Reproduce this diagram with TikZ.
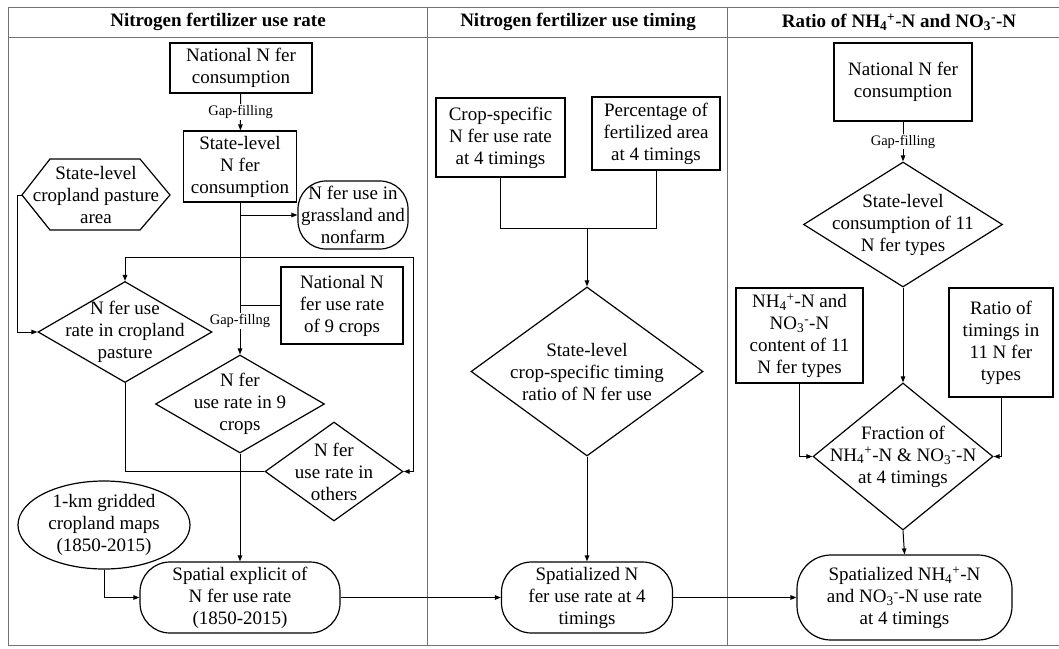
\documentclass[tikz,border=0pt]{standalone}
\usepackage{fontspec}
\setmainfont{Liberation Serif}
\usetikzlibrary{arrows.meta,shapes.geometric}
\begin{document}
\begin{tikzpicture}[x=1pt,y=-1pt,
  txt/.style={font=\fontsize{19}{22}\selectfont, align=center, inner sep=0pt},
  hdr/.style={font=\fontsize{19}{22}\selectfont\bfseries, align=center, inner sep=0pt},
  gap/.style={font=\fontsize{14.5}{16}\selectfont, fill=white, inner sep=1.2pt},
  shp/.style={draw=black, line width=1.2pt, inner sep=0pt},
  boxs/.style={shp, rectangle},
  rnd/.style={shp, rectangle, rounded corners=#1},
  dia/.style={shp, diamond},
  ell/.style={shp, ellipse},
  con/.style={line width=1pt},
  arr/.style={line width=1pt, -{Triangle[length=6pt,width=4.5pt]}},
  arr2/.style={line width=1pt, {Triangle[length=6pt,width=4.5pt]}-{Triangle[length=6pt,width=4.5pt]}},
  frm/.style={draw=black!55, line width=0.9pt}]
\useasboundingbox (0,0) rectangle (1059,648);
% frame
\draw[frm] (1059,7) -- (8,7) -- (8,645) -- (1059,645);
\draw[frm] (8,37) -- (1059,37);
\draw[frm] (427,7) -- (427,645);
\draw[frm] (727,7) -- (727,645);
\node[hdr] (h1) at (218,22) {Nitrogen fertilizer use rate};
\node[hdr] (h2) at (578,22) {Nitrogen fertilizer use timing};
\node[hdr] (h3) at (899,22) {Ratio of NH\textsubscript{4}\textsuperscript{+}-N and NO\textsubscript{3}\textsuperscript{-}-N};

% ---------- column 1 ----------
\node[boxs, minimum width=142pt, minimum height=50pt] (n1) at (241,68) {};
\node[txt] (n1t) at (n1) {National N fer\\consumption};
\node[boxs, minimum width=113pt, minimum height=71pt] (s1) at (240,166.5) {};
\node[txt] (s1t) at (s1) {State-level\\N fer\\consumption};
\draw[shp] (22,195) -- (50,159) -- (140,159) -- (170,195) -- (140,230) -- (50,230) -- cycle;
\coordinate (hexw) at (22,195);
\coordinate (hexl) at (17,195);
\node[txt] (hext) at (96,195) {State-level\\cropland pasture\\area};
\node[rnd=28pt, minimum width=110pt, minimum height=68pt] (gr) at (353,215) {};
\node[txt] (grt) at (gr) {N fer use in\\grassland and\\nonfarm};
\node[boxs, minimum width=122pt, minimum height=77pt] (nat9) at (342,305.5) {};
\node[txt] (nat9t) at (nat9) {National N\\fer use rate\\of 9 crops};
\node[dia, minimum width=174pt, minimum height=101pt] (cp) at (125,332) {};
\node[txt] (cpt) at (cp) {N fer use\\rate in cropland\\pasture};
\node[dia, minimum width=169pt, minimum height=98pt] (d9) at (240,404) {};
\node[txt] (d9t) at (d9) {N fer\\use rate in 9\\crops};
\node[dia, minimum width=138pt, minimum height=99pt] (do) at (334,471.5) {};
\node[txt] (dot) at (do) {N fer\\use rate in\\others};
\node[ell, minimum width=172pt, minimum height=88pt] (grid) at (104,525) {};
\node[txt] (gridt) at (grid) {1-km gridded\\cropland maps\\(1850-2015)};
\node[rnd=30pt, minimum width=200pt, minimum height=71pt] (se) at (240,597.5) {};
\node[txt] (set) at (se) {Spatial explicit of\\N fer use rate\\(1850-2015)};
\coordinate (loopr) at (413,257);

\draw[arr] (n1) -- node[gap] {Gap-filling} (s1);
\draw[arr] (s1.south) -- node[gap, pos=0.78] {Gap-fillng} (d9.north);
\draw[arr] (s1.south |- gr.west) -- (gr.west);
\draw[con] (nat9.west) -- (s1.south |- nat9.west);
\draw[arr2] (cp.north) |- (loopr) |- (do.east);
\draw[con] (hexw) -- (hexl);
\draw[arr] (hexl) |- (cp.west);
\draw[con] (cp.south) |- (do.west);
\draw[arr] (d9.south) -- (se.north);
\draw[arr] (grid.south) |- (se.west);

% ---------- column 2 ----------
\node[boxs, minimum width=129pt, minimum height=79pt] (cs) at (500.5,137.5) {};
\node[txt] (cst) at (cs) {Crop-specific\\N fer use rate\\at 4 timings};
\node[boxs, minimum width=128pt, minimum height=73pt] (pc) at (656,133.5) {};
\node[txt] (pct) at (pc) {Percentage of\\fertilized area\\at 4 timings};
\coordinate (jn) at (587,228);
\node[dia, minimum width=232pt, minimum height=169pt] (td) at (587,371.5) {};
\node[txt] (tdt) at (td) {State-level\\crop-specific timing\\ratio of N fer use};
\node[rnd=30pt, minimum width=171pt, minimum height=71pt] (sn) at (587,597.5) {};
\node[txt] (snt) at (sn) {Spatialized N\\fer use rate at 4\\timings};

\draw[con] (cs.south) |- (jn);
\draw[con] (pc.south) |- (jn);
\draw[arr] (jn) -- (td.north);
\draw[arr] (td.south) -- (sn.north);
\draw[arr] (se.east) -- (sn.west);

% ---------- column 3 ----------
\node[boxs, minimum width=138pt, minimum height=78pt] (n2) at (903,82) {};
\node[txt] (n2t) at (n2) {National N fer\\consumption};
\node[dia, minimum width=199pt, minimum height=125pt] (sd) at (903,224.5) {};
\node[txt] (sdt) at (sd) {State-level\\consumption of 11\\N fer types};
\node[boxs, minimum width=127pt, minimum height=95pt] (nh) at (799.5,335.5) {};
\node[txt] (nht) at (nh) {NH\textsubscript{4}\textsuperscript{+}-N and\\NO\textsubscript{3}\textsuperscript{-}-N\\content of 11\\N fer types};
\node[boxs, minimum width=104pt, minimum height=109pt] (rt) at (1001,342.5) {};
\node[txt] (rtt) at (rt) {Ratio of\\timings in\\11 N fer\\types};
\node[dia, minimum width=180pt, minimum height=147pt] (fd) at (903,456.5) {};
\node[txt] (fdt) at (fd) {Fraction of\\NH\textsubscript{4}\textsuperscript{+}-N \& NO\textsubscript{3}\textsuperscript{-}-N\\at 4 timings};
\node[rnd=34pt, minimum width=215pt, minimum height=85pt] (fin) at (904.5,597.5) {};
\node[txt] (fint) at (fin) {Spatialized NH\textsubscript{4}\textsuperscript{+}-N\\and NO\textsubscript{3}\textsuperscript{-}-N use rate\\at 4 timings};

\draw[arr] (n2) -- node[gap] {Gap-filling} (sd.north);
\draw[arr] (sd.south) -- (fd.north);
\draw[arr] (nh.south) |- (fd.west);
\draw[arr] (rt.south) |- (fd.east);
\draw[arr] (fd.south) -- (fin.north);
\draw[arr] (sn.east) -- (fin.west);
\end{tikzpicture}
\end{document}
